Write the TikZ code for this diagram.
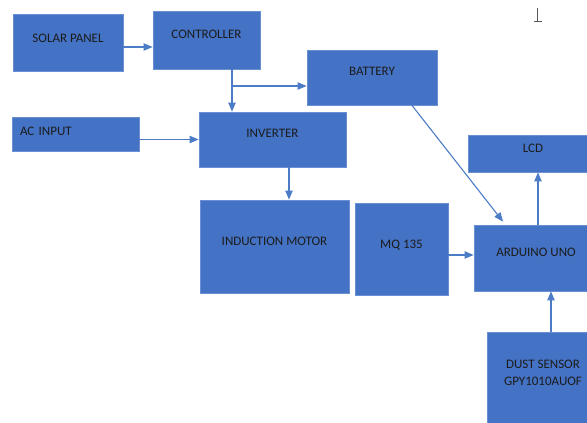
\documentclass[tikz,border=0pt]{standalone}
\usepackage{fontspec}
\setmainfont{Carlito}
\usepackage{tikz}
\usetikzlibrary{arrows}
\definecolor{boxblue}{HTML}{4472C4}
\definecolor{boxline}{HTML}{6A8FD2}
\definecolor{arrblue}{HTML}{4D7CC6}
\definecolor{txt}{HTML}{1C1C1C}
\tikzset{
box/.style={draw=boxline,fill=boxblue,line width=0.8pt,rectangle,inner sep=0pt,text=txt,font=\fontsize{13}{17}\selectfont},
boxsize/.style 2 args={minimum width=#1pt,minimum height=#2pt},
lift/.style={text height=8.4pt,text depth=#1pt},
arr/.style={draw=arrblue,line width=1.1pt,-triangle 45}
}
\begin{document}
\begin{tikzpicture}[x=1pt,y=-1pt]
\useasboundingbox (0,0) rectangle (587,423);

\node[box,boxsize={110}{57},lift=9.4] (solar) at (68,42.5) {SOLAR PANEL};
\node[box,boxsize={107}{58},lift=12.4] (ctrl) at (206.5,40) {CONTROLLER};
\node[box,boxsize={130}{55},lift=13.4] (bat) at (372,77.5) {BATTERY};
\node[box,boxsize={127}{34},lift=6.4,text width=111pt,align=left] (ac) at (75.5,134) {AC INPUT};
\node[box,boxsize={147}{55},lift=13.4] (inv) at (272.5,139.5) {INVERTER};
\node[box,boxsize={130}{37},lift=11.4] (lcd) at (533,153.5) {LCD};
\node[box,boxsize={149}{93},lift=11.4] (motor) at (274.5,246.5) {INDUCTION MOTOR};
\node[box,boxsize={93}{92},lift=10.4] (mq) at (401.5,249) {MQ 135};
\node[box,boxsize={124}{66},lift=12.4] (ard) at (536,258) {ARDUINO UNO};
\node[box,boxsize={112}{98},label={[text=txt,align=center,font=\fontsize{13}{17}\selectfont,yshift=8.5pt]center:DUST SENSOR\\GPY1010AUOF}] (dust) at (543,381) {};

\coordinate (split) at (232,86);
\draw[arr] ([yshift=-4.5pt]solar.east) -- ([yshift=-4.5pt]solar.east -| ctrl.west);
\draw[arr] (split |- ctrl.south) -- (split |- inv.north);
\draw[arr] (split) -- (split -| bat.west);
\draw[arr] (ac.east |- inv.west) -- (inv.west);
\draw[arr] ([xshift=16.5pt]inv.south) -- ([xshift=16.5pt]inv.south |- motor.north);
\draw[arr] ([xshift=40pt]bat.south) -- ([xshift=-33pt,yshift=3pt]ard.north);
\draw[arr] ([yshift=-6pt]mq.east) -- ([yshift=-6pt]mq.east -| ard.west);
\draw[arr] ([xshift=2pt]ard.north) -- ([xshift=2pt]ard.north |- lcd.south);
\draw[arr] ([xshift=8pt]dust.north) -- ([xshift=8pt]dust.north |- ard.south);

\draw[line width=0.8pt,gray!70!black] (537.5,8) -- (537.5,21) (534,21) -- (541.5,21);
\end{tikzpicture}
\end{document}
